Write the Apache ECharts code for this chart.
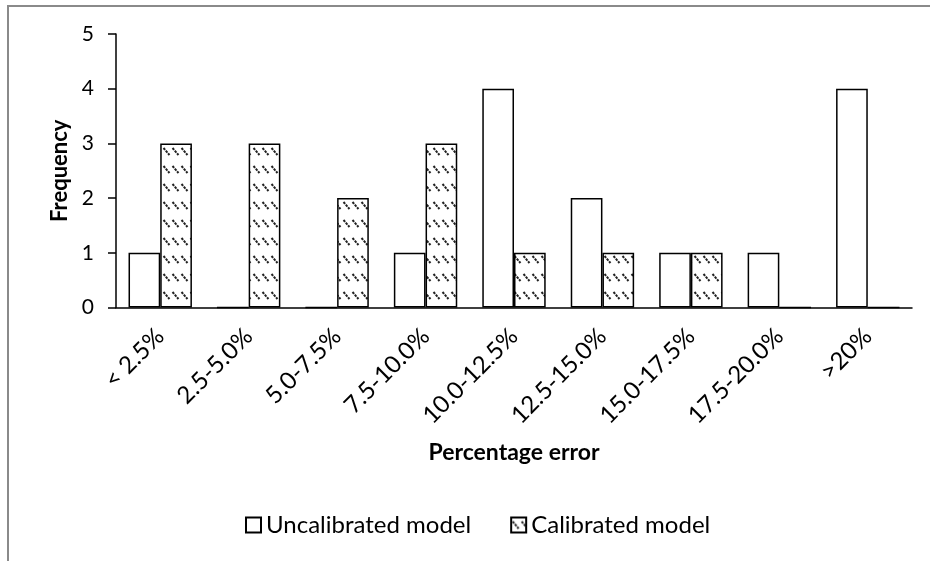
<!DOCTYPE html>
<html>
<head>
<meta charset="utf-8">
<script src="https://cdn.jsdelivr.net/npm/echarts@6/dist/echarts.min.js"></script>
<style>
html,body{margin:0;padding:0;background:#fff;}
#chart{width:930px;height:561px;}
</style>
</head>
<body>
<div id="chart"></div>
<script>
const categories = ['< 2.5%', '2.5-5.0%', '5.0-7.5%', '7.5-10.0%', '10.0-12.5%', '12.5-15.0%', '15.0-17.5%', '17.5-20.0%', '>20%'];
const uncalibrated = [1, 0, 0, 1, 4, 2, 1, 1, 4];
const calibrated = [3, 3, 2, 3, 1, 1, 1, 0, 0];
const yTicks = [0, 1, 2, 3, 4, 5];

const FONT = 'Lato, "Open Sans", sans-serif';

function makePattern() {
  const c = document.createElement('canvas');
  c.width = 9; c.height = 18;
  const ctx = c.getContext('2d');
  ctx.fillStyle = '#fff';
  ctx.fillRect(0, 0, 9, 18);
  ctx.strokeStyle = '#222';
  ctx.lineWidth = 2;
  ctx.setLineDash([2.5, 1]);
  ctx.beginPath();
  ctx.moveTo(1.5, 4);
  ctx.lineTo(7.5, 11);
  ctx.stroke();
  return c;
}
const pattern = { image: makePattern(), repeat: 'repeat' };

const chart = echarts.init(document.getElementById('chart'), null, { renderer: 'canvas' });
chart.setOption({
  animation: false,
  backgroundColor: '#fff',
  textStyle: { fontFamily: FONT },
  graphic: [{
    type: 'rect',
    shape: { x: 8, y: 6, width: 1000, height: 1000 },
    style: { fill: 'none', stroke: '#8a8a8a', lineWidth: 2 },
    silent: true
  }],
  grid: { left: 116, right: 18, top: 34, bottom: 253.5 },
  legend: {
    left: 245,
    top: 513,
    padding: 0,
    itemWidth: 15,
    itemHeight: 15,
    itemGap: 39,
    icon: 'rect',
    textStyle: { fontFamily: FONT, fontSize: 24, color: '#000' },
    data: ['Uncalibrated model', 'Calibrated model']
  },
  xAxis: {
    type: 'category',
    data: categories,
    name: 'Percentage error',
    nameLocation: 'middle',
    nameGap: 134,
    nameTextStyle: { fontFamily: FONT, fontSize: 23, fontWeight: 'bold', color: '#000' },
    axisLine: { lineStyle: { color: '#000', width: 1.5 } },
    axisTick: { show: false },
    axisLabel: { rotate: 45, interval: 0, margin: 25, fontFamily: FONT, fontSize: 24, color: '#000' }
  },
  yAxis: {
    type: 'value',
    min: yTicks[0],
    max: yTicks[yTicks.length - 1],
    interval: 1,
    name: 'Frequency',
    nameLocation: 'middle',
    nameGap: 45,
    nameTextStyle: { fontFamily: FONT, fontSize: 22, fontWeight: 'bold', color: '#000' },
    axisLine: { show: true, lineStyle: { color: '#000', width: 1.5 } },
    axisTick: { show: true, length: 8, lineStyle: { color: '#000', width: 1.5 } },
    splitLine: { show: false },
    axisLabel: { margin: 22, fontFamily: FONT, fontSize: 21, color: '#000' }
  },
  series: [
    {
      name: 'Uncalibrated model',
      type: 'bar',
      data: uncalibrated,
      barWidth: 31.7,
      barGap: '0%',
      itemStyle: { color: '#fff', borderColor: '#000', borderWidth: 1.5 }
    },
    {
      name: 'Calibrated model',
      type: 'bar',
      data: calibrated,
      barWidth: 31.7,
      barGap: '0%',
      itemStyle: { color: pattern, borderColor: '#000', borderWidth: 1.5 }
    }
  ]
});
</script>
</body>
</html>
